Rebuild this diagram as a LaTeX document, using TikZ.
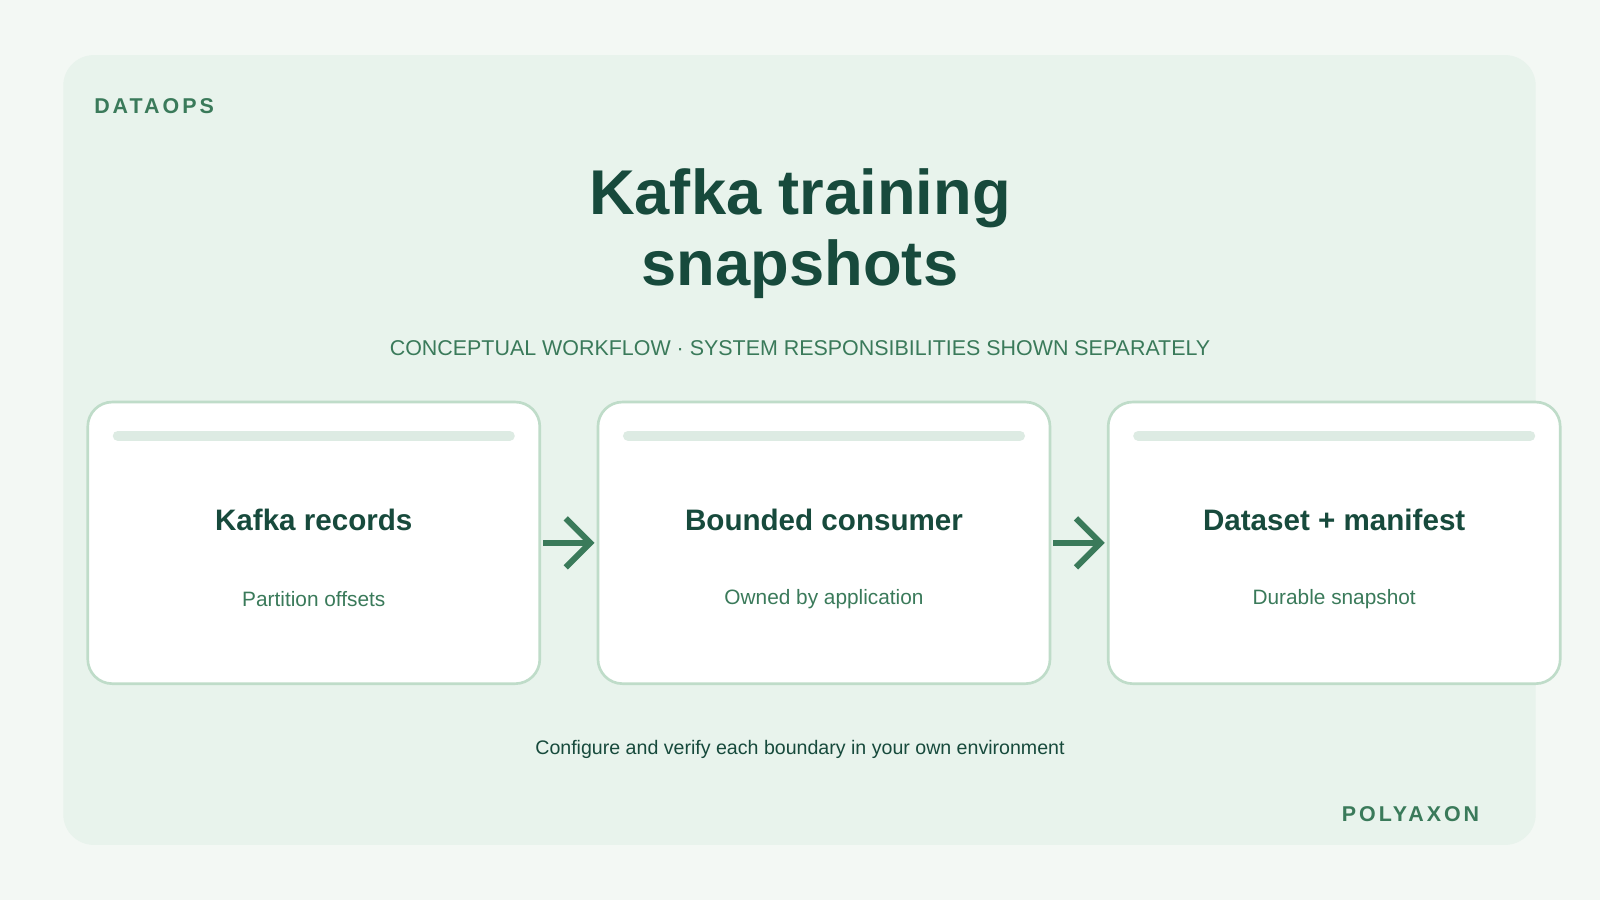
\documentclass[tikz,border=0pt]{standalone}
\usepackage{fontspec}
\setmainfont{Liberation Sans}
\usetikzlibrary{arrows.meta}
\definecolor{bg}{HTML}{F3F8F4}
\definecolor{panel}{HTML}{E8F3EC}
\definecolor{dark}{HTML}{174A3C}
\definecolor{mid}{HTML}{3A7A5A}
\definecolor{cardline}{HTML}{BFDCC9}
\definecolor{bar}{HTML}{DDEBE3}
\begin{document}
\begin{tikzpicture}[x=0.5pt,y=-0.5pt,
  card/.style={draw=cardline,line width=1.3pt,fill=white,rounded corners=12pt,minimum width=221.5pt,minimum height=138pt,inner sep=0pt},
  ctitle/.style={font=\fontsize{14.5}{17}\selectfont\bfseries,text=dark},
  csub/.style={font=\fontsize{10.2}{12}\selectfont,text=mid},
  barl/.style={line width=5pt,line cap=round,bar},
  flow/.style={draw=mid,line width=3pt,-{Straight Barb[length=12pt,width=24pt,line width=3pt]},shorten <=1pt,shorten >=1pt},
  spaced/.style={font=\fontsize{10.5}{12}\selectfont\bfseries\addfontfeature{LetterSpace=14},text=mid,inner sep=0pt}]
\fill[bg] (0,0) rectangle (1568,882);
\useasboundingbox (0,0) rectangle (1568,882);
\fill[panel,rounded corners=15pt] (62,54) rectangle (1505,828);
\node[spaced,anchor=west] (tag) at (92,104) {DATAOPS};
\node[font=\fontsize{31}{35}\selectfont\bfseries,text=dark,align=center] (title) at (784,229) {Kafka training\\snapshots};
\node[font=\fontsize{10.5}{12}\selectfont,text=mid] (sub) at (784,341) {CONCEPTUAL WORKFLOW · SYSTEM RESPONSIBILITIES SHOWN SEPARATELY};
\foreach \n/\x/\t/\s in {a/307.5/Kafka records/Partition offsets, b/807.5/Bounded consumer/Owned by application, c/1307.5/Dataset + manifest/Durable snapshot}{
  \node[card] (\n) at (\x,532) {};
  \draw[barl] (\x-192,427) -- (\x+192,427);
  \node[ctitle] (\n t) at (\x,510) {\t};
  \node[csub] (\n s) at (\x,587) {\s};
}
\draw[flow] (a) -- (b);
\draw[flow] (b) -- (c);
\node[font=\fontsize{9.6}{11}\selectfont,text=dark] (foot) at (784,734) {Configure and verify each boundary in your own environment};
\node[spaced,anchor=east] (brand) at (1450,798) {POLYAXON};
\end{tikzpicture}
\end{document}
